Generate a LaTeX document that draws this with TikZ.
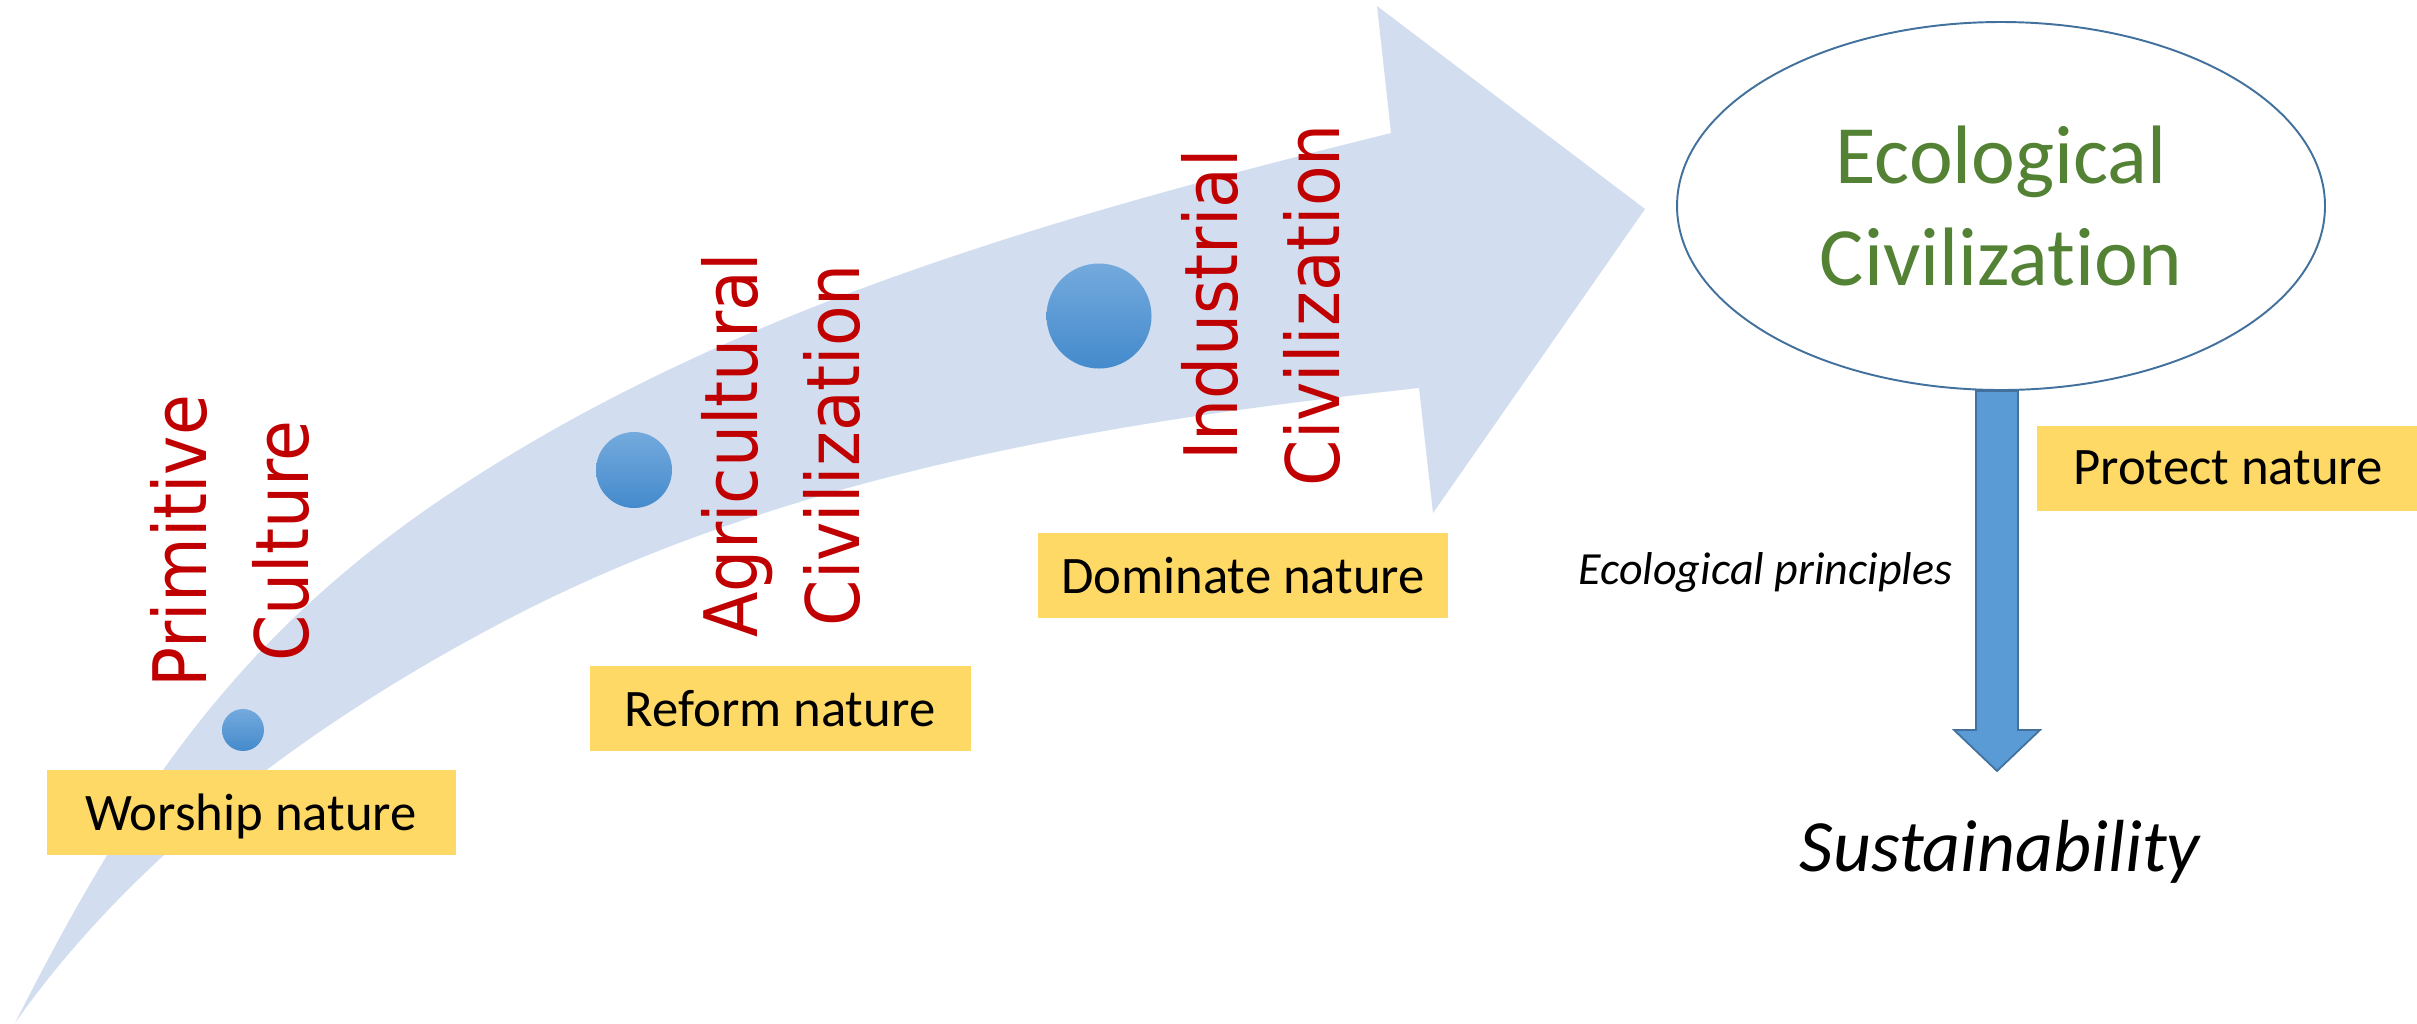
\documentclass[tikz,border=0pt]{standalone}
\usepackage{fontspec}
\setmainfont{Carlito}[Ligatures=CommonOff]
\newfontfamily\erafont{DejaVu Sans Condensed}
\usepackage{tikz}
\usetikzlibrary{shapes.geometric,calc}
\usepackage{xcolor}
\definecolor{flowcolor}{RGB}{210,222,239}
\definecolor{boxcolor}{RGB}{255,217,102}
\definecolor{eracolor}{RGB}{192,0,0}
\definecolor{ecocolor}{RGB}{84,130,53}
\definecolor{rimcolor}{RGB}{65,113,156}
\definecolor{downcolor}{RGB}{91,155,213}
\definecolor{dottop}{RGB}{116,170,221}
\definecolor{dotbottom}{RGB}{68,138,204}

\begin{document}
\begin{tikzpicture}[x=0.1mm, y=-0.1mm,
    stage/.style={rectangle, fill=boxcolor, minimum height=8.5mm, inner sep=0pt, text depth=0pt, font=\fontsize{15}{18}\selectfont},
    era/.style={rotate=90, align=center, inner sep=0pt, text=eracolor, font=\erafont\fontsize{21}{29}\selectfont},
    dot/.style={circle, inner sep=0pt, top color=dottop, bottom color=dotbottom},
    goal/.style={ellipse, draw=rimcolor, line width=0.55pt, fill=white, inner sep=0pt, minimum width=64.8mm, minimum height=36.8mm, align=center, text=ecocolor, font=\fontsize{23.6}{29.3}\selectfont},
]
    \useasboundingbox (0,0) rectangle (2417,1023);

    % Big curved arrow
    \fill[flowcolor] (15,1023) .. controls (128,800) and (233,641) .. (440,500)
        .. controls (721,309) and (1061,215) .. (1391,133)
        -- (1377,6) -- (1645,209) -- (1433,513) -- (1419,388)
        .. controls (1112,421) and (795,473) .. (520,613)
        .. controls (327,712) and (139,847) .. (15,1023) -- cycle;

    % Stages on the arrow
    \node[dot, minimum size=4.2mm] (d1) at (243,730) {};
    \node[dot, minimum size=7.6mm] (d2) at (634,470) {};
    \node[dot, minimum size=10.5mm] (d3) at (1099,316) {};

    \node[era] (prim) at (230,541) {Primitive\\Culture};
    \node[era] (agri) at (781,445) {Agricultural\\Civilization};
    \node[era] (indu) at (1261,305) {Industrial\\Civilization};

    \node[stage, minimum width=40.9mm] (worship) at (251,812) {Worship nature};
    \node[stage, minimum width=38.1mm] (reform) at (780,708) {Reform nature};
    \node[stage, minimum width=41.0mm] (dominate) at (1243,575) {Dominate nature};

    % Goal
    \node[goal] (eco) at (2001,206) {Ecological\\Civilization};
    \node[stage, minimum width=38.2mm] (protect) at (2228,468) {Protect nature};
    \node[font=\itshape\fontsize{21}{25}\selectfont, anchor=base] (sust) at (2000,871) {Sustainability};
    \node[font=\itshape\fontsize{13.1}{16}\selectfont, anchor=base east, inner sep=0pt] (princ) at (1953,584) {Ecological principles};

    % Down arrow
    \coordinate (arrtop) at ([xshift=-0.4mm]eco.south);
    \coordinate (arrtip) at (1997,771);
    \draw[rimcolor, fill=downcolor, line width=0.5pt, line join=miter]
        ($(arrtop)+(-21,0)$) -- ($(arrtop)+(21,0)$) -- ($(arrtop)+(21,339)$) -- ($(arrtop)+(43,339)$)
        -- (arrtip) -- ($(arrtop)+(-43,339)$) -- ($(arrtop)+(-21,339)$) -- cycle;
\end{tikzpicture}
\end{document}
